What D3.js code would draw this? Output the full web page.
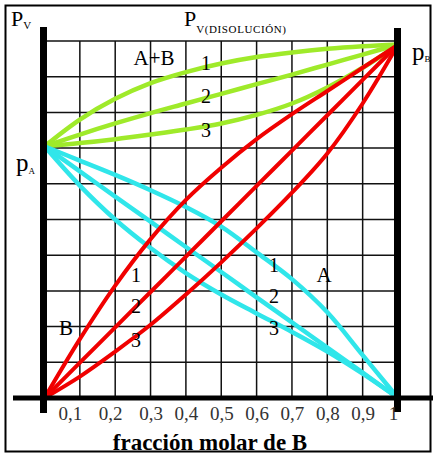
<!DOCTYPE html>
<html>
<head>
<meta charset="utf-8">
<script src="https://cdn.jsdelivr.net/npm/d3@7"></script>
<style>
  html, body { margin: 0; padding: 0; background: #fff; }
  svg { display: block; }
  text { font-family: "Liberation Serif", "Times New Roman", serif; fill: #000; }
</style>
</head>
<body>
<svg id="chart" width="434" height="456"></svg>
<script>
// ---- data ----
const xs = [0, 0.1, 0.2, 0.3, 0.4, 0.5, 0.6, 0.7, 0.8, 0.9, 1];
const tickValues = [0.1, 0.2, 0.3, 0.4, 0.5, 0.6, 0.7, 0.8, 0.9, 1];
const tickLabels = ["0,1", "0,2", "0,3", "0,4", "0,5", "0,6", "0,7", "0,8", "0,9", "1"];
const gridY = [1, 2, 3, 4, 5, 6, 7, 8, 9, 10];

// total vapour pressure P_V(disolución)
const green1 = [7.05, 7.80, 8.38, 8.82, 9.13, 9.37, 9.55, 9.68, 9.78, 9.85, 9.9];
const green2 = [7.05, 7.38, 7.69, 7.98, 8.25, 8.52, 8.79, 9.06, 9.34, 9.62, 9.9];
const green3 = [7.05, 7.14, 7.25, 7.38, 7.52, 7.69, 7.93, 8.25, 8.70, 9.25, 9.9];
// partial pressure of B
const red1 = [0, 1.65, 3.15, 4.45, 5.55, 6.45, 7.25, 7.95, 8.6, 9.25, 9.9];
const red2 = [0, 0.99, 1.98, 2.97, 3.96, 4.95, 5.94, 6.93, 7.92, 8.91, 9.9];
const red3 = [0, 0.6, 1.3, 2.05, 2.9, 3.8, 4.75, 5.75, 6.85, 8.25, 9.9];
// partial pressure of A
const cyan1 = [7.05, 6.65, 6.25, 5.82, 5.35, 4.8, 4.08, 3.33, 2.4, 1.2, 0];
const cyan2 = [7.05, 6.35, 5.64, 4.94, 4.23, 3.53, 2.82, 2.12, 1.41, 0.71, 0];
const cyan3 = [7.05, 5.95, 5.0, 4.2, 3.5, 2.9, 2.37, 1.85, 1.3, 0.68, 0];

const curveLabels = ["1", "2", "3"];

// ---- drawing ----
const svg = d3.select("#chart");
const x = d3.scaleLinear().domain([0, 1]).range([44.5, 398]);
const y = d3.scaleLinear().domain([0, 10]).range([398, 41]);

// outer frame
svg.append("rect").attr("x", 5.5).attr("y", 5.5).attr("width", 425).attr("height", 446)
  .attr("fill", "none").attr("stroke", "#000").attr("stroke-width", 2);

// grid
const grid = svg.append("g").attr("stroke", "#111").attr("stroke-width", 1.5);
grid.selectAll("line.v").data(tickValues.slice(0, -1)).join("line")
  .attr("x1", d => x(d)).attr("x2", d => x(d)).attr("y1", y(10)).attr("y2", y(0));
grid.selectAll("line.h").data(gridY).join("line")
  .attr("x1", x(0)).attr("x2", x(1)).attr("y1", d => y(d)).attr("y2", d => y(d));

// curves
const line = d3.line().x((d, i) => x(xs[i])).y(d => y(d)).curve(d3.curveCatmullRom.alpha(0.5));
const series = [
  { vals: green1, color: "#9fea2a", w: 4.5 },
  { vals: green2, color: "#9fea2a", w: 4.5 },
  { vals: green3, color: "#9fea2a", w: 4.5 },
  { vals: cyan1, color: "#30e6ea", w: 4.5 },
  { vals: cyan2, color: "#30e6ea", w: 4.5 },
  { vals: cyan3, color: "#30e6ea", w: 4.5 },
  { vals: red1, color: "#f00000", w: 4 },
  { vals: red2, color: "#f00000", w: 4 },
  { vals: red3, color: "#f00000", w: 4 }
];
svg.append("g").selectAll("path").data(series).join("path")
  .attr("d", d => line(d.vals))
  .attr("fill", "none").attr("stroke", d => d.color).attr("stroke-width", d => d.w)
  .attr("stroke-linecap", "round").attr("stroke-linejoin", "round");

// thick axes
const ax = svg.append("g").attr("stroke", "#000");
ax.append("line").attr("x1", 43.5).attr("x2", 43.5).attr("y1", 27).attr("y2", 413).attr("stroke-width", 7);
ax.append("line").attr("x1", 397.5).attr("x2", 397.5).attr("y1", 28).attr("y2", 412).attr("stroke-width", 7);
ax.append("line").attr("x1", 13).attr("x2", 433).attr("y1", y(0)).attr("y2", y(0)).attr("stroke-width", 5);

// x tick labels via d3 axis
const xAxis = d3.axisBottom(x).tickValues(tickValues).tickSize(0)
  .tickFormat((d, i) => tickLabels[i]);
const gx = svg.append("g").attr("transform", `translate(0,${y(0)})`).call(xAxis);
gx.select(".domain").remove();
gx.selectAll("text")
  .attr("y", 22).attr("dy", 0)
  .attr("dx", (d, i) => (i === 0 ? -10 : i === 1 ? -5 : i === tickValues.length - 1 ? -5 : 0))
  .style("font-family", "'Liberation Serif', serif").style("font-size", "19px").style("fill", "#333");

// axis title
svg.append("text").attr("x", 210).attr("y", 450).attr("text-anchor", "middle")
  .style("font-size", "23px").style("font-weight", "bold").text("fracción molar de B");

// P_V (top-left)
const pv = svg.append("text").attr("x", 11).attr("y", 26).style("font-size", "22px");
pv.append("tspan").text("P");
pv.append("tspan").attr("dy", 3).style("font-size", "11px").text("V");

// P_V(DISOLUCIÓN)
const pvd = svg.append("text").attr("x", 184).attr("y", 26).style("font-size", "22px");
pvd.append("tspan").text("P");
pvd.append("tspan").attr("dy", 7).style("font-size", "11px").style("letter-spacing", "0.6px").text("V(DISOLUCIÓN)");

// p_B and p_A
const pb = svg.append("text").attr("x", 412).attr("y", 60).style("font-size", "25px");
pb.append("tspan").text("p");
pb.append("tspan").attr("dy", 2).style("font-size", "9px").text("B");
const pa = svg.append("text").attr("x", 16).attr("y", 171).style("font-size", "25px");
pa.append("tspan").text("p");
pa.append("tspan").attr("dy", 3).style("font-size", "9px").text("A");

// region labels
svg.append("text").attr("x", 154).attr("y", 65).attr("text-anchor", "middle").style("font-size", "21px").text("A+B");
svg.append("text").attr("x", 324).attr("y", 282).attr("text-anchor", "middle").style("font-size", "21px").text("A");
svg.append("text").attr("x", 66).attr("y", 335).attr("text-anchor", "middle").style("font-size", "21px").text("B");

// curve number labels
const greenLabY = [70, 103, 137];
const redLabY = [282, 313, 347];
const cyanLabY = [272, 303, 335];
const numLab = (xx, ys) => svg.append("g").selectAll("text").data(curveLabels).join("text")
  .attr("x", xx).attr("y", (d, i) => ys[i]).attr("text-anchor", "middle")
  .style("font-size", "20px").text(d => d);
numLab(206, greenLabY);
numLab(136, redLabY);
numLab(274, cyanLabY);
</script>
</body>
</html>
